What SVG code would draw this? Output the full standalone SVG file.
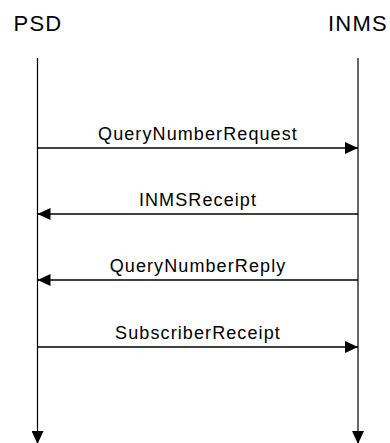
<svg xmlns="http://www.w3.org/2000/svg" width="390" height="443" viewBox="0 0 390 443">
<style>
.hdr{font-family:"Liberation Sans",Arial,sans-serif;font-size:22px;letter-spacing:1.3px;fill:#000;text-anchor:middle}
.lbl{font-family:"Liberation Sans",Arial,sans-serif;font-size:18px;letter-spacing:1.1px;fill:#000;text-anchor:middle}
.life{stroke:#000;stroke-width:1.2;fill:none}
.msg{stroke:#000;stroke-width:1.5;fill:none}
</style>
<defs>
<marker id="ah" viewBox="0 0 13 12" refX="13" refY="6" markerWidth="13" markerHeight="12" markerUnits="userSpaceOnUse" orient="auto">
<path d="M0,0 L13,6 L0,12 Z" fill="#000"/>
</marker>
</defs>
<g id="PSD">
<text class="hdr" x="38" y="31">PSD</text>
</g>
<g id="INMS">
<text class="hdr" x="358" y="31">INMS</text>
</g>
<g id="connectors">
<line class="life" x1="37.5" y1="58" x2="37.5" y2="444" marker-end="url(#ah)"/>
<line class="life" x1="358" y1="58" x2="358" y2="444" marker-end="url(#ah)"/>
<line class="msg" x1="37.5" y1="148" x2="358" y2="148" marker-end="url(#ah)"/>
<text class="lbl" x="198" y="140">QueryNumberRequest</text>
<line class="msg" x1="358" y1="214" x2="37.5" y2="214" marker-end="url(#ah)"/>
<text class="lbl" x="198" y="206">INMSReceipt</text>
<line class="msg" x1="358" y1="280" x2="37.5" y2="280" marker-end="url(#ah)"/>
<text class="lbl" x="198" y="272">QueryNumberReply</text>
<line class="msg" x1="37.5" y1="347" x2="358" y2="347" marker-end="url(#ah)"/>
<text class="lbl" x="198" y="339">SubscriberReceipt</text>
</g>
</svg>
